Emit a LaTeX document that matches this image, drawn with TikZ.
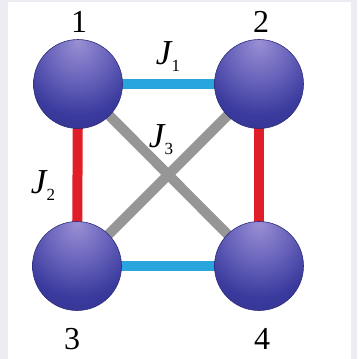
\documentclass[tikz,border=0pt]{standalone}
\usepackage{fontspec}
\setmainfont{Liberation Serif}
\definecolor{bondcyan}{RGB}{40,165,220}
\definecolor{bondred}{RGB}{225,30,40}
\definecolor{bondgray}{RGB}{150,150,150}
\definecolor{frame}{RGB}{236,236,242}
\definecolor{sphereedge}{RGB}{45,45,125}
\pgfdeclareradialshading{spheregrad}{\pgfpoint{0bp}{24bp}}{
  rgb(0bp)=(0.60,0.56,0.83);
  rgb(16bp)=(0.42,0.40,0.74);
  rgb(32bp)=(0.23,0.23,0.62);
  rgb(50bp)=(0.18,0.18,0.53);
  rgb(64bp)=(0.14,0.14,0.43);
  rgb(80bp)=(0.12,0.12,0.37)}
\tikzset{
  atom/.style={circle, minimum size=89pt, inner sep=0pt, shading=spheregrad, draw=sphereedge, line width=0.6pt},
  bond/.style={line width=10pt},
  lbl/.style={font=\fontsize{32}{32}\selectfont, inner sep=0pt},
}
\newcommand{\Jlab}[1]{{\fontsize{35}{35}\selectfont\itshape J}\raisebox{-7pt}{\fontsize{17}{17}\selectfont #1}}
\begin{document}
\begin{tikzpicture}[x=1pt,y=-1pt]
\fill[frame] (0,0) rectangle (357,359);
\fill[white] (8,2) rectangle (351,359);
\useasboundingbox (0,0) rectangle (357,359);
\coordinate (c1) at (78,84);
\coordinate (c2) at (259,84);
\coordinate (c3) at (77,266);
\coordinate (c4) at (259,266);
\draw[bond, bondcyan] (c1) -- (c2);
\draw[bond, bondcyan] (c3) -- (c4);
\draw[bond, bondred] (c1) -- (c3);
\draw[bond, bondred] (c2) -- (c4);
\draw[bond, bondgray] (c1) -- (c4);
\draw[bond, bondgray] (c2) -- (c3);
\node[atom] (a1) at (c1) {};
\node[atom] (a2) at (c2) {};
\node[atom] (a3) at (c3) {};
\node[atom] (a4) at (c4) {};
\node[lbl] (n1) at (79,22) {1};
\node[lbl] (n2) at (261,22) {2};
\node[lbl] (n3) at (72,339) {3};
\node[lbl] (n4) at (262,339) {4};
\node[lbl] (j1) at (168,57) {\Jlab{1}};
\node[lbl] (j2) at (43,186) {\Jlab{2}};
\node[lbl] (j3) at (161,140) {\Jlab{3}};
\end{tikzpicture}
\end{document}
